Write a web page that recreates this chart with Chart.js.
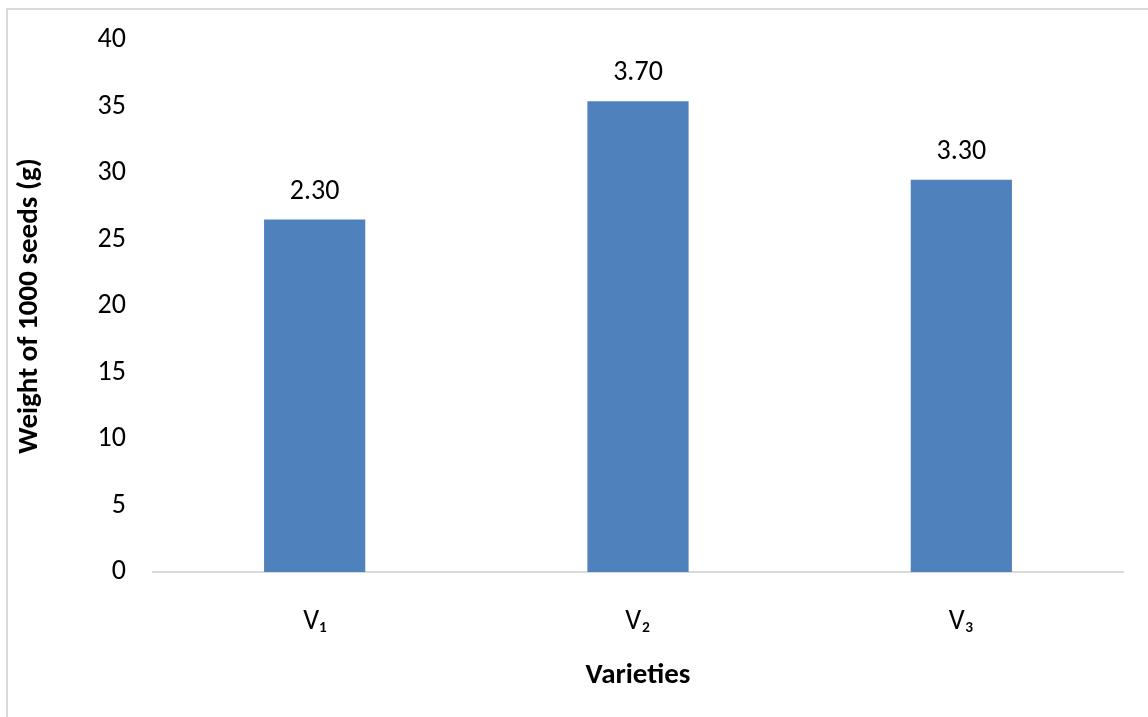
<!DOCTYPE html>
<html>
<head>
<meta charset="utf-8">
<script src="https://cdn.jsdelivr.net/npm/chart.js@4/dist/chart.umd.min.js"></script>
<style>
html,body{margin:0;padding:0;background:#fff;}
#wrap{width:1148px;height:717px;position:relative;}
</style>
</head>
<body>
<div id="wrap"><canvas id="c" width="1148" height="717"></canvas></div>
<script>
const categories = ["V\u2081", "V\u2082", "V\u2083"];
const weights = [26.5, 35.4, 29.5];
const barLabels = ["2.30", "3.70", "3.30"];
const yTitle = "Weight of 1000 seeds (g)";
const xTitle = "Varieties";

const FONT = "Carlito, Calibri, 'Open Sans', sans-serif";

const frame = {
  id: 'frame',
  beforeDraw(chart) {
    const ctx = chart.ctx;
    ctx.save();
    ctx.fillStyle = '#fff';
    ctx.fillRect(0, 0, chart.width, chart.height);
    ctx.strokeStyle = '#d9d9d9';
    ctx.lineWidth = 2;
    ctx.strokeRect(7, 9, chart.width + 20, chart.height + 20);
    ctx.restore();
  }
};

const labelsPlugin = {
  id: 'barLabels',
  afterDatasetsDraw(chart) {
    const ctx = chart.ctx;
    const meta = chart.getDatasetMeta(0);
    ctx.save();
    ctx.font = "28px " + FONT;
    ctx.fillStyle = '#000';
    ctx.textAlign = 'center';
    ctx.textBaseline = 'middle';
    meta.data.forEach((bar, i) => {
      ctx.fillText(barLabels[i], bar.x, bar.y - 28);
    });
    ctx.restore();
  }
};

new Chart(document.getElementById('c'), {
  type: 'bar',
  data: {
    labels: categories,
    datasets: [{
      data: weights,
      backgroundColor: '#4f81bd',
      borderWidth: 0,
      barPercentage: 0.313,
      categoryPercentage: 1
    }]
  },
  options: {
    responsive: false,
    animation: false,
    devicePixelRatio: 1,
    layout: { padding: { left: 12, top: 40, right: 25, bottom: 24 } },
    plugins: { legend: { display: false }, tooltip: { enabled: false } },
    scales: {
      x: {
        grid: { display: false, drawTicks: false },
        border: { display: true, color: '#d9d9d9', width: 2 },
        ticks: { color: '#000', font: { size: 28, family: FONT }, padding: 33 },
        title: { display: true, text: xTitle, color: '#000', font: { size: 29, weight: 'bold', family: FONT }, padding: { top: 10, bottom: 0 } },
        afterFit(scale) { scale.height = 717 - 572 - 24; }
      },
      y: {
        min: 0, max: 40,
        grid: { display: false, drawTicks: false },
        border: { display: false },
        ticks: { stepSize: 5, color: '#000', font: { size: 28, family: FONT }, padding: 27 },
        title: { display: true, text: yTitle, color: '#000', font: { size: 29, weight: 'bold', family: FONT }, padding: { top: 0, bottom: 0 } },
        afterFit(scale) { scale.width = 153 - 12; scale.paddingTop = 0; scale.paddingBottom = 0; }
      }
    }
  },
  plugins: [frame, labelsPlugin]
});
</script>
</body>
</html>
